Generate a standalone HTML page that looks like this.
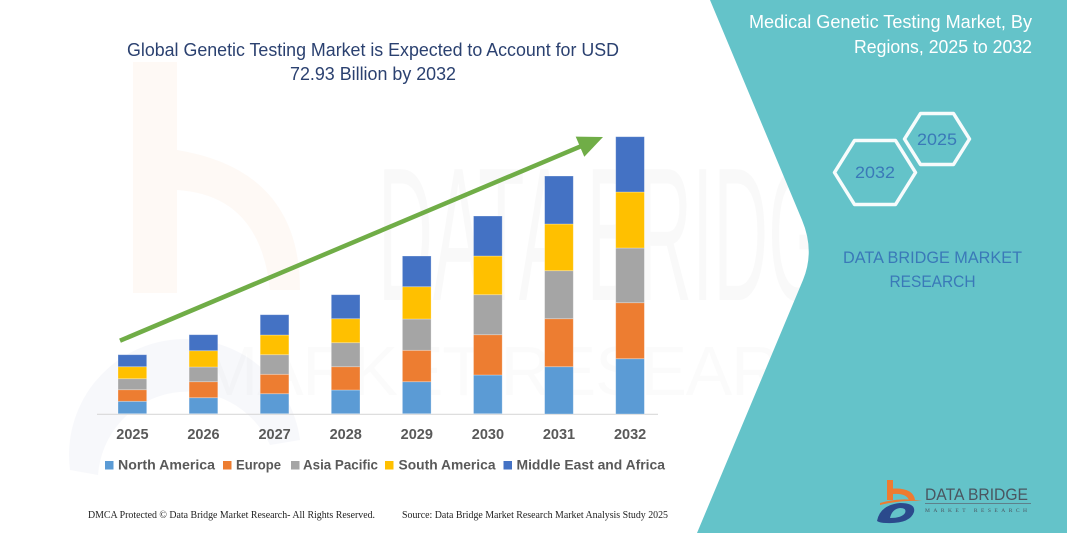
<!DOCTYPE html>
<html><head><meta charset="utf-8"><style>
html,body{margin:0;padding:0;background:#fff;}
svg{display:block;}
</style></head><body>
<svg width="1067" height="533" viewBox="0 0 1067 533" xmlns="http://www.w3.org/2000/svg">
<rect width="1067" height="533" fill="#ffffff"/>
<!-- faint watermarks -->
<path d="M133,62 L177,62 L177,150 Q300,170 300,290 L270,290 Q260,195 177,190 L177,293 L133,293 Z" fill="#fbe6d8" opacity="0.25"/>
<path d="M70,470 A115,115 0 0 1 300,440 L270,445 A90,90 0 0 0 98,475 Z" fill="#dfe5ee" opacity="0.25"/>
<text x="378" y="300" font-family="Liberation Sans, sans-serif" font-size="190" textLength="500" lengthAdjust="spacingAndGlyphs" fill="#000" opacity="0.018">DATA BRIDGE</text>
<text x="200" y="395" font-family="Liberation Sans, sans-serif" font-size="70" textLength="680" lengthAdjust="spacing" fill="#000" opacity="0.012">MARKET RESEARCH</text>

<!-- right teal panel -->
<path d="M710,0 L1067,0 L1067,533 L697,533 L803,280 Q815,251 802,220 Z" fill="#64c3c9"/>

<!-- left title -->
<text x="127" y="56" font-family="Liberation Sans, sans-serif" font-size="18" fill="#2b4170" textLength="492" lengthAdjust="spacingAndGlyphs">Global Genetic Testing Market is Expected to Account for USD</text>
<text x="290" y="80" font-family="Liberation Sans, sans-serif" font-size="18" fill="#2b4170" textLength="166" lengthAdjust="spacingAndGlyphs">72.93 Billion by 2032</text>

<!-- axis -->
<line x1="97" y1="414.3" x2="658" y2="414.3" stroke="#d9d9d9" stroke-width="1.2"/>

<!-- bars -->
<g stroke="#ffffff" stroke-opacity="0.35" stroke-width="0.8">
<rect x="118" y="401.3" width="28.7" height="12.4" fill="#5b9bd5"/>
<rect x="118" y="389.7" width="28.7" height="11.6" fill="#ed7d31"/>
<rect x="118" y="378.7" width="28.7" height="11" fill="#a5a5a5"/>
<rect x="118" y="366.7" width="28.7" height="12" fill="#ffc000"/>
<rect x="118" y="354.7" width="28.7" height="12" fill="#4472c4"/>
<rect x="189.1" y="397.7" width="28.7" height="16" fill="#5b9bd5"/>
<rect x="189.1" y="381.7" width="28.7" height="16" fill="#ed7d31"/>
<rect x="189.1" y="367" width="28.7" height="14.7" fill="#a5a5a5"/>
<rect x="189.1" y="350.7" width="28.7" height="16.3" fill="#ffc000"/>
<rect x="189.1" y="334.7" width="28.7" height="16" fill="#4472c4"/>
<rect x="260.2" y="393.7" width="28.7" height="20" fill="#5b9bd5"/>
<rect x="260.2" y="374.3" width="28.7" height="19.4" fill="#ed7d31"/>
<rect x="260.2" y="354.7" width="28.7" height="19.6" fill="#a5a5a5"/>
<rect x="260.2" y="335" width="28.7" height="19.7" fill="#ffc000"/>
<rect x="260.2" y="314.7" width="28.7" height="20.3" fill="#4472c4"/>
<rect x="331.3" y="390" width="28.7" height="23.7" fill="#5b9bd5"/>
<rect x="331.3" y="366.7" width="28.7" height="23.3" fill="#ed7d31"/>
<rect x="331.3" y="342.7" width="28.7" height="24" fill="#a5a5a5"/>
<rect x="331.3" y="318.7" width="28.7" height="24" fill="#ffc000"/>
<rect x="331.3" y="294.7" width="28.7" height="24" fill="#4472c4"/>
<rect x="402.4" y="381.7" width="28.7" height="32" fill="#5b9bd5"/>
<rect x="402.4" y="350.3" width="28.7" height="31.4" fill="#ed7d31"/>
<rect x="402.4" y="319" width="28.7" height="31.3" fill="#a5a5a5"/>
<rect x="402.4" y="286.7" width="28.7" height="32.3" fill="#ffc000"/>
<rect x="402.4" y="256" width="28.7" height="30.7" fill="#4472c4"/>
<rect x="473.5" y="375" width="28.7" height="38.7" fill="#5b9bd5"/>
<rect x="473.5" y="334.7" width="28.7" height="40.3" fill="#ed7d31"/>
<rect x="473.5" y="294.7" width="28.7" height="40" fill="#a5a5a5"/>
<rect x="473.5" y="256" width="28.7" height="38.7" fill="#ffc000"/>
<rect x="473.5" y="216" width="28.7" height="40" fill="#4472c4"/>
<rect x="544.6" y="366.7" width="28.7" height="47.3" fill="#5b9bd5"/>
<rect x="544.6" y="318.7" width="28.7" height="48" fill="#ed7d31"/>
<rect x="544.6" y="270.7" width="28.7" height="48" fill="#a5a5a5"/>
<rect x="544.6" y="224" width="28.7" height="46.7" fill="#ffc000"/>
<rect x="544.6" y="176" width="28.7" height="48" fill="#4472c4"/>
<rect x="615.7" y="358.7" width="28.7" height="55.3" fill="#5b9bd5"/>
<rect x="615.7" y="302.7" width="28.7" height="56" fill="#ed7d31"/>
<rect x="615.7" y="248" width="28.7" height="54.7" fill="#a5a5a5"/>
<rect x="615.7" y="192" width="28.7" height="56" fill="#ffc000"/>
<rect x="615.7" y="136.7" width="28.7" height="55.3" fill="#4472c4"/>
</g>

<!-- arrow -->
<line x1="120" y1="340.7" x2="582" y2="145.8" stroke="#70ad47" stroke-width="4.5"/>
<polygon points="603,137 584.3,156.8 575.7,136.6" fill="#70ad47"/>

<!-- year labels -->
<g font-family="Liberation Sans, sans-serif" font-size="14.5" font-weight="bold" fill="#595959" text-anchor="middle">
<text x="132.4" y="439">2025</text>
<text x="203.5" y="439">2026</text>
<text x="274.6" y="439">2027</text>
<text x="345.7" y="439">2028</text>
<text x="416.8" y="439">2029</text>
<text x="487.9" y="439">2030</text>
<text x="559" y="439">2031</text>
<text x="630.1" y="439">2032</text>
</g>

<!-- legend -->
<g font-family="Liberation Sans, sans-serif" font-size="14" font-weight="bold" fill="#595959">
<rect x="105" y="461" width="8.5" height="8.5" fill="#5b9bd5"/>
<text x="118" y="469.5" textLength="97" lengthAdjust="spacingAndGlyphs">North America</text>
<rect x="223" y="461" width="8.5" height="8.5" fill="#ed7d31"/>
<text x="236" y="469.5" textLength="45" lengthAdjust="spacingAndGlyphs">Europe</text>
<rect x="291" y="461" width="8.5" height="8.5" fill="#a5a5a5"/>
<text x="303" y="469.5" textLength="75" lengthAdjust="spacingAndGlyphs">Asia Pacific</text>
<rect x="385" y="461" width="8.5" height="8.5" fill="#ffc000"/>
<text x="398.5" y="469.5" textLength="97" lengthAdjust="spacingAndGlyphs">South America</text>
<rect x="503.5" y="461" width="8.5" height="8.5" fill="#4472c4"/>
<text x="516.5" y="469.5" textLength="148.5" lengthAdjust="spacingAndGlyphs">Middle East and Africa</text>
</g>

<!-- footer -->
<g font-family="Liberation Serif, serif" font-size="10.5" fill="#222">
<text x="88" y="518" textLength="287" lengthAdjust="spacingAndGlyphs">DMCA Protected © Data Bridge Market Research-  All Rights Reserved.</text>
<text x="402" y="518" textLength="266" lengthAdjust="spacingAndGlyphs">Source: Data Bridge Market Research  Market Analysis Study 2025</text>
</g>

<!-- right panel text -->
<g font-family="Liberation Sans, sans-serif" font-size="18" fill="#ffffff">
<text x="749" y="28" textLength="283" lengthAdjust="spacingAndGlyphs">Medical Genetic Testing Market, By</text>
<text x="854" y="53" textLength="178" lengthAdjust="spacingAndGlyphs">Regions, 2025 to 2032</text>
</g>

<!-- hexagons -->
<g fill="none" stroke="#ffffff" stroke-width="3.5" stroke-linejoin="round" opacity="0.95">
<polygon points="904.5,139 920.5,113.5 953.5,113.5 969.5,139 953.5,164.5 920.5,164.5"/>
<polygon points="834.5,172.5 854.5,140.5 895.5,140.5 915.5,172.5 895.5,204.5 854.5,204.5"/>
</g>
<g font-family="Liberation Sans, sans-serif" font-size="17" fill="#3a79b8" text-anchor="middle">
<text x="937" y="145" textLength="40" lengthAdjust="spacingAndGlyphs">2025</text>
<text x="875" y="178" textLength="40" lengthAdjust="spacingAndGlyphs">2032</text>
</g>
<g font-family="Liberation Sans, sans-serif" font-size="16.5" fill="#3a79b8" text-anchor="middle">
<text x="932.5" y="263" textLength="179" lengthAdjust="spacingAndGlyphs">DATA BRIDGE MARKET</text>
<text x="932.5" y="287" textLength="86" lengthAdjust="spacingAndGlyphs">RESEARCH</text>
</g>

<!-- logo -->
<g>
<rect x="887" y="480" width="6" height="20" fill="#ee7b30"/>
<path d="M887,489 Q913,486 915,500 L909,500 Q906,493 893,494 Z" fill="#ee7b30"/>
<path d="M880,503 Q900,497 922,501 Q900,500 880,505 Z" fill="#ee7b30"/>
<path d="M877,521 Q880,505 900,503 Q916,503 914,512 Q910,524 886,523 Q880,523 877,521 Z" fill="#2b4a8c"/>
<path d="M890,518 Q892,509 900,508 Q907,508 905,513 Q902,518 890,518 Z" fill="#64c3c9"/>
<text x="925" y="500" font-family="Liberation Sans, sans-serif" font-size="17" fill="#4a5560" textLength="103" lengthAdjust="spacingAndGlyphs">DATA BRIDGE</text>
<line x1="925" y1="503.5" x2="1031" y2="503.5" stroke="#5b6a76" stroke-width="0.8"/>
<text x="925" y="512" font-family="Liberation Serif, serif" font-size="5.5" fill="#4a5560" textLength="102" lengthAdjust="spacing">MARKET  RESEARCH</text>
</g>
</svg>
</body></html>
